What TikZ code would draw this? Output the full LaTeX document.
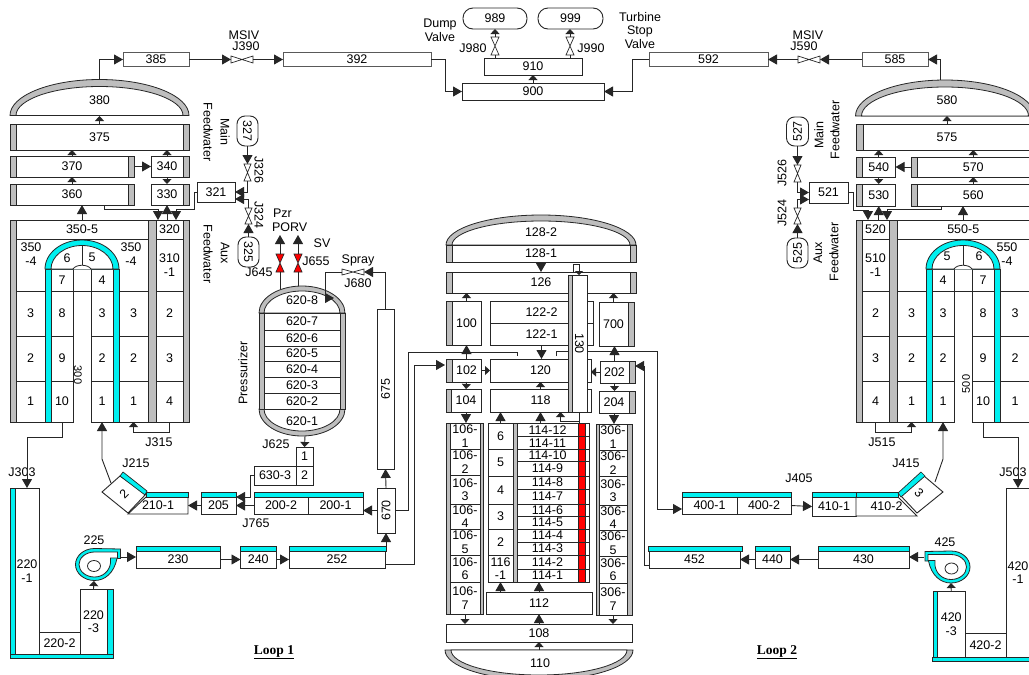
\documentclass[tikz,border=0pt]{standalone}
\usepackage{fontspec}
\usepackage{graphicx}
\setmainfont{Liberation Sans}
\newfontfamily\lpfont{Liberation Serif}
\usetikzlibrary{arrows.meta,calc}
\definecolor{lk}{gray}{0.15}
\definecolor{gbar}{RGB}{190,190,190}
\definecolor{cbar}{RGB}{0,240,240}
\definecolor{rbar}{RGB}{255,0,0}
\newcommand{\txtfont}{\fontsize{12.5}{13.6}\selectfont}
\tikzset{
 boxst/.style={draw=lk,fill=white,line width=.9pt,inner sep=0pt,outer sep=0pt,font=\txtfont,align=center,text=black},
 lbl/.style={inner sep=0pt,outer sep=0pt,font=\txtfont,align=center,text=black},
 con/.style={draw=lk,line width=.9pt},
 arb/.style={con,-{Triangle[length=9pt,width=10pt]}},
 ars/.style={con,-{Triangle[length=5pt,width=9pt]}},
 art/.style={con,-{Triangle[length=4pt,width=8pt]}},
 vnode/.style={inner sep=0pt,outer sep=0pt},
 pill/.style={boxst,rounded corners=8pt},
 bar/.style={draw=lk,line width=.7pt,fill=gbar},
 cyb/.style={draw=lk,line width=.7pt,fill=cbar},
 redbar/.style={draw=lk,line width=.7pt,fill=rbar},
 shp/.style={draw=lk,line width=.9pt,fill=white},
}
\newcommand{\bx}[7][]{%
 \pgfmathsetmacro\bxcx{(#3+#5)/2}\pgfmathsetmacro\bxcy{(#4+#6)/2}%
 \pgfmathsetmacro\bxw{#5-#3}\pgfmathsetmacro\bxh{#6-#4}%
 \node[boxst,minimum width=\bxw pt,minimum height=\bxh pt,#1] (#2) at (\bxcx,\bxcy) {#7};}
\newcommand{\lb}[5][]{\node[lbl,#1] (#2) at (#3,#4) {#5};}
\newcommand{\rb}[5][bar]{\path[#1] (#2,#3) rectangle (#4,#5);}
\newcommand{\vlvH}[6]{\node[vnode,minimum width=#4pt,minimum height=#5pt] (#1) at (#2,#3) {};
 \path[draw=lk,line width=.7pt,fill=#6] (#1.north west)--(#1.south east)--(#1.north east)--(#1.south west)--cycle;}
\newcommand{\vlvV}[6]{\node[vnode,minimum width=#4pt,minimum height=#5pt] (#1) at (#2,#3) {};
 \path[draw=lk,line width=.7pt,fill=#6] (#1.north west)--(#1.north east)--(#1.south west)--(#1.south east)--cycle;}
\newcommand{\domepath}[4]{(#1-#2,#3) .. controls (#1-#2,#3-0.5523*#4) and (#1-0.5523*#2,#3-#4) .. (#1,#3-#4) .. controls (#1+0.5523*#2,#3-#4) and (#1+#2,#3-0.5523*#4) .. (#1+#2,#3)}
\newcommand{\dome}[6]{\path[draw=lk,line width=.8pt,fill=gbar] \domepath{#1}{#2}{#3}{#4} -- cycle;
 \path[draw=lk,line width=.8pt,fill=white] \domepath{#1}{#5}{#3}{#6} -- cycle;}
\newcommand{\arch}[2]{\path[draw=lk,line width=.8pt,fill=cbar] \domepath{#1}{37}{#2}{29} -- cycle;
 \path[draw=lk,line width=.8pt,fill=white] \domepath{#1}{31}{#2}{23.5} -- cycle;}
\newcommand{\pumpshape}{%
 \path[draw=lk,line width=.8pt,fill=cbar] (120.5,549) -- (94.5,548.5) .. controls (84,548.5) and (75.5,555.7) .. (75.5,564.5) .. controls (75.5,573.3) and (84,580.5) .. (94.5,580.5) .. controls (105,580.5) and (114,573) .. (117,558.5) -- (120.5,558.5) -- cycle;
 \path[draw=lk,line width=.8pt,fill=white] (117.5,552) -- (94.5,552) .. controls (86,552) and (79,557.6) .. (79,564.5) .. controls (79,571.4) and (86,577) .. (94.5,577) .. controls (103,577) and (109.5,571) .. (110.5,563) -- (110.5,558) -- (117.5,558) -- cycle;
 \path[draw=lk,line width=.8pt,fill=white] (94,566) ellipse [x radius=6.5pt,y radius=5.5pt];}
\begin{document}
\begin{tikzpicture}[x=1pt,y=-1pt]
\useasboundingbox (0,0) rectangle (1029,675);
\clip (0,0) rectangle (1029,675);
\path[fill=white] (0,0) rectangle (1029,675);

% ---------- named free ends
\coordinate (d380) at (99.5,80);   \coordinate (b380) at (99.5,116);
\coordinate (d580) at (940,80);    \coordinate (b580) at (947,116);
\coordinate (c392) at (445,91.5);  \coordinate (c592) at (632,91.5);
\coordinate (a1) at (158,209);     \coordinate (a2) at (194,209);   \coordinate (a3) at (176,220);
\coordinate (a1b) at (158,220);
\coordinate (r1) at (853,210);     \coordinate (r2) at (868,220);
\coordinate (r3) at (887,209);     \coordinate (r4) at (887,220);
\coordinate (vt1) at (280,235);    \coordinate (vt2) at (298,235);
\coordinate (vb1) at (280,289);    \coordinate (vb2) at (298,286);
\coordinate (a5) at (325,298);     \coordinate (a4) at (334,298);
\coordinate (pzb) at (305,436);
\coordinate (a6) at (250,497);
\coordinate (kink1) at (102,459);  \coordinate (dia1) at (111,483);
\coordinate (kink2) at (943,459);  \coordinate (dia2) at (935,482);
\coordinate (a7) at (27,437);      \coordinate (a7r) at (1018,437);
\coordinate (pmp1o) at (120.5,557);\coordinate (pmp1b) at (94,581);
\coordinate (pmp2o) at (924,557);  \coordinate (pmp2b) at (951,583);
\coordinate (top252) at (386,546);
\coordinate (a8) at (414,365);     \coordinate (a9) at (445,365);
\coordinate (a10) at (408,352);    \coordinate (a11) at (517,356);
\coordinate (a12) at (657,351);    \coordinate (a13) at (556,356);
\coordinate (a14) at (644,366);    \coordinate (a15) at (635,366);
\coordinate (a16) at (560.5,421);
\coordinate (b110) at (539,650);
\coordinate (j315) at (133.5,432); \coordinate (j515) at (911.5,432);
\coordinate (s55) at (963,220);    \coordinate (s35) at (82,220);

% ---------- top header
\bx[draw=gray!70!black]{n385}{123}{52.5}{189}{66.5}{385}
\bx[draw=gray!70!black]{n392}{283}{52.5}{431}{66.5}{392}
\vlvH{J390}{242}{59.5}{22}{7}{white}
\bx[pill,rounded corners=10pt]{p989}{463}{8}{527}{29}{989}
\bx[pill,rounded corners=10pt]{p999}{538}{8}{603}{29}{999}
\bx{n910}{484}{58}{582}{75}{910}
\bx{n900}{462}{83}{604}{100}{900}
\vlvV{J980}{495}{46}{8}{18}{white}
\vlvV{J990}{570}{46}{8}{18}{white}
\bx[draw=gray!70!black]{n592}{649}{52.5}{768}{66.5}{592}
\bx[draw=gray!70!black]{n585}{862}{52.5}{928}{66.5}{585}
\vlvH{J590}{809}{59.5}{22}{7}{white}

\lb{tmsiv1}{244}{35}{MSIV}\lb{tj390}{246}{46}{J390}
\lb{tmsiv2}{808}{35}{MSIV}\lb{tj590}{804}{46}{J590}
\lb{tdump}{440}{30}{Dump\\Valve}
\lb{tj980}{473}{48}{J980}\lb{tj990}{591}{48}{J990}
\lb{tturb}{640}{30.5}{Turbine\\Stop\\Valve}

\draw[arb] (d380) |- (n385.west);
\draw[arb] (n385.east) -- (J390.west);
\draw[arb] (J390.east) -- (n392.west);
\draw[arb] (n392.east) -| (c392) -- (c392 -| n900.west);
\draw[arb] (n592.west) -| (c592) -- (c592 -| n900.east);
\draw[arb] (J590.west) -- (n592.east);
\draw[arb] (n585.west) -- (J590.east);
\draw[arb] (d580) |- (n585.east);
\draw[ars] (n900.north) -- (n910.south);
\draw[con] (J980.south |- n910.north) -- (J980.south);
\draw[con] (J990.south |- n910.north) -- (J990.south);
\draw[ars] (J980.north) -- (J980.north |- p989.south);
\draw[ars] (J990.north) -- (J990.north |- p999.south);

% ---------- steam generator 1, upper
\dome{99.5}{89.5}{115.5}{36}{83.5}{29}
\lb{t380}{99.5}{100}{380}
\bx{n375}{16}{124}{183}{150}{375}
\rb{10}{124}{16}{150}\rb{183}{124}{189}{150}
\bx{n370}{16}{156}{128}{177}{370}
\rb{10}{156}{16}{177}\rb{128}{156}{134}{177}
\bx{n340}{151}{156}{183}{177}{340}\rb{183}{156}{189}{177}
\bx{n360}{16}{184}{128}{205}{360}
\rb{10}{184}{16}{205}\rb{128}{184}{134}{205}
\bx{n330}{151}{184}{183}{205}{330}\rb{183}{184}{189}{205}
\bx{n321}{197}{182}{235}{202}{321}
\bx[pill]{p327}{237}{116}{258}{146}{\rotatebox{-90}{327}}
\bx[pill]{p325}{238}{237}{259}{267}{\rotatebox{-90}{325}}
\vlvV{J326}{247.5}{172.5}{7}{17}{white}
\vlvV{J324}{248.5}{216}{7}{16}{white}
\lb[rotate=-90]{tj326}{259}{170}{J326}
\lb[rotate=-90]{tj324}{259}{215}{J324}
\lb[rotate=-90]{tmain1}{225}{132}{Main}
\lb[rotate=-90]{tfw1}{208}{132}{Feedwater}
\lb[rotate=-90]{taux1}{225}{253}{Aux}
\lb[rotate=-90]{tfw2}{208}{254}{Feedwater}

% ---------- steam generator 1, lower
\bx{n350e}{16}{220}{148}{239}{350-5}
\bx{n350d}{16}{239}{148}{291}{}
\bx{n320}{156}{220}{183}{239}{320}
\bx{n310}{156}{239}{183}{291}{310\\-1}
\foreach \ya/\yb/\ta/\tb/\tc/\td/\te/\kk in {291/336/3/8/3/3/2/a,336/381/2/9/2/2/3/b,381/422/1/10/1/1/4/c}{
 \bx{sA\kk}{16}{\ya}{45}{\yb}{\ta}
 \bx{sB\kk}{51}{\ya}{73}{\yb}{\tb}
 \bx{sC\kk}{91}{\ya}{113}{\yb}{\tc}
 \bx{sD\kk}{119}{\ya}{148}{\yb}{\td}
 \bx{sE\kk}{156}{\ya}{183}{\yb}{\te}
}
\rb{10}{220}{16}{422}\rb{148}{220}{156}{422}\rb{183}{220}{189}{422}
\bx{sB7}{51}{269}{73}{291}{7}
\bx{sC4}{91}{269}{113}{291}{4}
\rb[cyb]{45}{269}{51}{422}\rb[cyb]{113}{269}{119}{422}
\arch{82}{269}
\path[draw=lk,line width=.8pt,fill=white] (73,269) .. controls (76,264) and (88,264) .. (91,269);
\path[draw=lk,line width=.8pt] (82,245.5) -- (82,265);
\lb{t350a}{31}{254}{350\\-4}\lb{t350b}{131}{254}{350\\-4}
\lb{t6a}{67}{258}{6}\lb{t5a}{92}{257}{5}
\lb[rotate=-90,font=\fontsize{11}{12}\selectfont]{t300}{78}{375}{300}
\lb{tj315}{159}{442}{J315}

% ---------- steam generator 2, upper
\dome{945}{89.5}{116}{36}{83.5}{29}
\lb{t580}{947}{100}{580}
\bx{n575}{863}{124}{1031}{150}{575}\rb{856}{124}{863}{150}
\bx{n540}{862}{157}{895.5}{177}{540}\rb{856}{157}{862}{177}
\bx{n570}{917}{157}{1029.5}{177}{570}\rb{911}{157}{917}{177}
\bx{n530}{862}{184}{895.5}{206}{530}\rb{856}{184}{862}{206}
\bx{n560}{917}{184}{1029.5}{206}{560}\rb{911}{184}{917}{206}
\bx{n521}{809}{182}{848}{203}{521}
\bx[pill]{p527}{786.5}{117}{808.5}{146}{\rotatebox{90}{527}}
\bx[pill]{p525}{787}{238}{808}{268}{\rotatebox{90}{525}}
\vlvV{J526}{797.5}{173.5}{7}{17}{white}
\vlvV{J524}{797.5}{216}{7}{16}{white}
\lb[rotate=90]{tj526}{782}{173}{J526}
\lb[rotate=90]{tj524}{782}{213}{J524}
\lb[rotate=90]{tmain2}{819}{135}{Main}
\lb[rotate=90]{tfw3}{835}{130}{Feedwater}
\lb[rotate=90]{taux2}{818}{253}{Aux}
\lb[rotate=90]{tfw4}{834}{252}{Feedwater}

% ---------- steam generator 2, lower
\bx{n520}{862}{220}{889}{239}{520}
\bx{n510}{862}{239}{889}{291}{510\\-1}
\bx{n550e}{897}{220}{1029.5}{239}{550-5}
\bx{n550d}{897}{239}{1030}{291}{}
\foreach \ya/\yb/\tf/\tg/\tq/\ti/\tj/\kk in {291/336/2/3/3/8/3/a,336/381/3/2/2/9/2/b,381/422/4/1/1/10/1/c}{
 \bx{sF\kk}{862}{\ya}{889}{\yb}{\tf}
 \bx{sG\kk}{897}{\ya}{926}{\yb}{\tg}
 \bx{sH\kk}{932}{\ya}{954}{\yb}{\tq}
 \bx{sI\kk}{972}{\ya}{994}{\yb}{\ti}
 \bx{sJ\kk}{1000}{\ya}{1030}{\yb}{\tj}
}
\rb{856}{220}{862}{422}\rb{889}{220}{897}{422}
\bx{sH4}{932}{269}{954}{291}{4}
\bx{sI7}{972}{269}{994}{291}{7}
\rb[cyb]{926}{269}{932}{422}\rb[cyb]{994}{269}{1000}{422}
\arch{963}{269}
\path[draw=lk,line width=.8pt,fill=white] (954,269) .. controls (957,264) and (969,264) .. (972,269);
\path[draw=lk,line width=.8pt] (963,245.5) -- (963,265);
\lb{t550}{1007}{254}{550\\-4}
\lb{t5b}{947}{256}{5}\lb{t6b}{979}{256}{6}
\lb[rotate=90,font=\fontsize{11}{12}\selectfont]{t500}{966}{384}{500}
\lb{tj515}{882}{442}{J515}

% ---------- SG connectors
\draw[ars] (n375.north) -- (b380);
\draw[ars] (n370.north) -- (n370.north |- n375.south);
\draw[ars] (n340.north) -- (n340.north |- n375.south);
\draw[ars] (n360.north) -- (n360.north |- n370.south);
\draw[ars] (n340.south) -- (n330.north);
\draw[arb] ([xshift=6pt]n370.east) -- (n340.west);
\draw[arb] (s35) -- (s35 |- n360.south);
\draw[arb] ([xshift=32pt]n360.south) |- (a1) -- (a1b);
\draw[arb] (n330.south |- n320.north) -- (n330.south);
\draw[arb] (n321.west) -| (a2) -| (a3);
\draw[arb] (p327.south) -- (J326.north);
\draw[arb] (J326.south) |- (n321.east);
\draw[arb] (J324.north) |- ([yshift=-7pt]n321.east);
\draw[arb] (p325.north) -- (J324.south);
\draw[ars] (sEc.south) |- (j315) -- (sDc.south);

\draw[ars] (n575.north) -- (b580);
\draw[ars] (n540.north) -- (n540.north |- n575.south);
\draw[ars] (n570.north) -- (n570.north |- n575.south);
\draw[ars] (n560.north) -- (n560.north |- n570.south);
\draw[ars] (n540.south) -- (n530.north);
\draw[arb] ([xshift=-6pt]n570.west) -- (n540.east);
\draw[arb] (s55) -- (s55 |- n560.south);
\draw[arb] (n521.east) -| (r1) -| (r2);
\draw[arb] (n530.south |- n520.north) -- (n530.south);
\draw[arb] ([xshift=-32pt]n560.south) |- (r3) -- (r4);
\draw[arb] (p527.south) -- (J526.north);
\draw[arb] (J526.south) |- (n521.west);
\draw[arb] (J524.north) |- ([yshift=-7pt]n521.west);
\draw[arb] (p525.north) -- (J524.south);
\draw[ars] (sFc.south) |- (j515) -- (sGc.south);

% ---------- pressurizer
\dome{302}{43}{313}{27}{38}{22}
\dome{302}{43}{409}{-27}{38}{-22}
\rb{259}{313}{264}{409}\rb{340}{313}{345}{409}
\foreach \ya/\yb/\kk in {313/330/7,330/346/6,346/361/5,361/377/4,377/393/3,393/409/2}{
 \bx{n620\kk}{264}{\ya}{340}{\yb}{620-\kk}
}
\lb{t6208}{302}{300}{620-8}\lb{t6201}{302}{421}{620-1}
\lb[rotate=90]{tpzr}{243}{373}{Pressurizer}
\vlvV{J645}{280}{263}{8}{18}{rbar}
\vlvV{J655}{298}{263}{8}{18}{rbar}
\vlvH{J680}{353}{272}{22}{6}{white}
\lb[anchor=west]{tpzr2}{273}{213}{Pzr}
\lb[anchor=west]{tporv}{272}{227}{PORV}
\lb{tsv}{322}{243}{SV}
\lb{tj655}{316}{261}{J655}\lb{tj645}{259}{272}{J645}
\lb{tspray}{358}{260}{Spray}\lb{tj680}{358}{283}{J680}
\lb{tj625}{276}{444}{J625}\lb{tj765}{256}{523}{J765}
\draw[con] (vb1) -- (J645.south);
\draw[con] (vb2) -- (J655.south);
\draw[arb] (J645.north) -- (vt1);
\draw[arb] (J655.north) -- (vt2);

% ---------- loop 1 piping
\bx{n6301}{296}{447}{313}{466}{1}
\bx{n6302}{296}{466}{313}{485}{2}
\bx{n6303}{254}{466}{296}{485}{630-3}
\bx{n205}{201}{497}{236}{514}{205}\rb[cyb]{201}{492}{236}{497}
\bx{n2002}{254}{497}{308}{514}{200-2}
\bx{n2001}{308}{497}{363}{514}{200-1}
\rb[cyb]{254}{492}{363}{497}
\path[shp] (128,514) -- (188,514) -- (188,497) -- (146,497) -- cycle;
\rb[cyb]{146}{492}{188}{497}
\path[shp] (102,492) -- (120,476) -- (146,494) -- (128,513) -- cycle;
\path[cyb] (123,472) -- (147,491) -- (145,495) -- (120,476) -- cycle;
\bx[draw=none,fill=none]{n2101}{128}{497}{188}{514}{210-1}
\lb[rotate=45]{td2}{124}{494}{2}
\lb{tj215}{136}{463}{J215}\lb{tj303}{22}{472}{J303}
\bx{n670}{377}{488}{395}{533}{\rotatebox{90}{670}}
\bx{n675}{377}{309}{394}{469}{\rotatebox{90}{675}}
\bx{n2201}{15}{488}{39}{654}{220\\-1}
\bx{n2202}{39}{632}{80}{654}{220-2}
\bx{n2203}{80}{589}{107}{654}{220\\-3}
\rb[cyb]{10}{488}{15}{654}\rb[cyb]{107}{589}{113}{654}\rb[cyb]{10}{654}{113}{658}
\pumpshape
\lb{t225}{94}{540}{225}
\bx{n230}{136}{551}{220}{568}{230}\rb[cyb]{136}{546}{220}{551}
\bx{n240}{240.5}{551}{276}{568}{240}\rb[cyb]{240.5}{546}{276}{551}
\bx{n252}{289}{551}{385}{568}{252}\rb[cyb]{289}{546}{386}{551}
\node[lbl,font=\lpfont\bfseries\fontsize{13.5}{15}\selectfont] (tloop1) at (274,652) {\underline{Loop 1}};

\draw[arb] (sBc.south) |- (a7) -- (a7 |- n2201.north);
\draw[ars] (pzb) -- (n6301.north);
\draw[arb] (n6303.west) -| (a6) -- (a6 -| n205.east);
\draw[arb] (n2002.west) -- (n205.east);
\draw[arb] (n205.west) -- (n2101.east);
\draw[arb] (dia1) -- (kink1) -- (kink1 |- sCc.south);
\draw[arb] (n670.west) -- (n670.west -| n2001.east);
\draw[arb] (n670.north) -- (n675.south);
\draw[arb] (top252) -- (n670.south);
\draw[ars] (n2203.north) -- (pmp1b);
\draw[arb] (pmp1o) -- (pmp1o -| n230.west);
\draw[arb] (n230.east) -- (n240.west);
\draw[arb] (n240.east) -- (n252.west);
\draw[arb] ([yshift=-4.5pt]n252.east) -| (a8) -- (a9);
\draw[con] (n670.east) -| (a10) -| (a11);
\draw[arb] (n675.north) |- (J680.east);
\draw[con] (J680.west) -| (a5);
\draw[arb] (a5) -- (a4);

% ---------- loop 2 piping
\bx{n4001}{682}{497}{737}{514}{400-1}
\bx{n4002}{737}{497}{791}{514}{400-2}
\rb[cyb]{682}{492}{791}{497}
\bx{n4101}{812}{497}{856}{516}{410-1}\rb[cyb]{812}{492}{856}{497}
\path[shp] (856,497) -- (898,497) -- (917,516) -- (856,516) -- cycle;
\rb[cyb]{856}{492}{898}{497}
\path[shp] (901,496) -- (924,476) -- (943,492) -- (917,513) -- cycle;
\path[cyb] (898,493) -- (921,472) -- (925,476) -- (901,497) -- cycle;
\bx[draw=none,fill=none]{n4102}{856}{497}{917}{516}{410-2}
\lb[rotate=-45]{td3}{919}{493}{3}
\lb{tj415}{906}{463}{J415}\lb{tj405}{799}{478}{J405}
\lb{tj503}{1013}{472}{J503}
\bx{n4201}{1006}{488}{1030}{657}{420\\-1}
\bx{n4202}{965}{633}{1006}{657}{420-2}
\bx{n4203}{937.5}{591}{965}{657}{420\\-3}
\rb[cyb]{933}{591}{937.5}{657}\rb[cyb]{932}{657}{1032}{661}
\begin{scope}[shift={(1045.5,2.5)},xscale=-1]\pumpshape\end{scope}
\lb{t425}{945}{542}{425}
\bx{n430}{818}{551}{909}{568}{430}\rb[cyb]{818}{546}{909}{551}
\bx{n440}{755}{551}{790}{568}{440}\rb[cyb]{755}{546}{790}{551}
\bx{n452}{649}{551}{740}{568}{452}\rb[cyb]{648}{546}{742}{551}
\node[lbl,font=\lpfont\bfseries\fontsize{13.5}{15}\selectfont] (tloop2) at (777,652) {\underline{Loop 2}};

\draw[arb] (dia2) -- (kink2) -- (kink2 |- sHc.south);
\draw[arb] (sIc.south) |- (a7r) -- (a7r |- n4201.north);
\draw[arb] (n4002.east) -- (n4101.west);
\draw[ars] (n4203.north) -- (pmp2b);
\draw[arb] (pmp2o) -- (pmp2o -| n430.east);
\draw[arb] (n430.west) -- (n440.east);
\draw[arb] (n440.west) -- (n452.east);
\draw[arb] ([yshift=-5.5pt]n452.west) -| (a14) -- (a15);
\draw[arb] (a13) |- (a12) |- ([yshift=-3.5pt]n4001.west);

% ---------- vessel
\dome{541}{95}{245}{30}{89}{24}
\lb{t1282}{541}{232}{128-2}
\bx{n1281}{452}{245}{630}{262}{128-1}\rb{446}{245}{452}{262}\rb{630}{245}{636}{262}
\bx{n126}{452}{272}{630}{293}{126}\rb{446}{272}{452}{293}\rb{630}{272}{636}{293}
\bx{n100}{452}{301}{481}{345}{100}\rb{446}{301}{452}{345}
\bx{n1222}{490}{301}{593}{323}{122-2}
\bx{n1221}{490}{323}{593}{345}{122-1}
\bx{n700}{599}{302}{628}{346}{700}\rb{628}{302}{634}{346}
\bx{n102}{452}{359}{481}{382}{102}\rb{446}{359}{452}{382}
\bx{n120}{490}{359}{591}{382}{120}
\bx{n202}{600}{361}{629}{383}{202}\rb{629}{361}{635}{383}
\bx{n104}{451}{389}{481}{412}{104}\rb{446}{389}{451}{412}
\bx{n118}{490}{389}{591}{412}{118}
\bx{n204}{599}{391}{629}{413}{204}\rb{629}{391}{635}{413}
\foreach \ya/\yb/\kk in {423/449/1,449/475/2,475/504/3,504/529/4,529/555/5,555/582/6,582/614/7}{
 \bx{n106\kk}{450}{\ya}{480}{\yb}{106-\\\kk}
}
\rb{446}{423}{450}{614}\rb{480}{423}{483}{614}
\foreach \ya/\yb/\kk in {424/450/1,450/476/2,476/505/3,505/530/4,530/556/5,556/583/6,583/615/7}{
 \bx{n306\kk}{599}{\ya}{627}{\yb}{306-\\\kk}
}
\rb{596}{424}{599}{615}\rb{627}{424}{632}{615}
\bx{n116f}{488}{423}{513}{449}{6}
\bx{n116e}{488}{449}{513}{476}{5}
\bx{n116d}{488}{476}{513}{504}{4}
\bx{n116c}{488}{504}{513}{529}{3}
\bx{n116b}{488}{529}{513}{555}{2}
\bx{n116a}{488}{555}{513}{582}{116\\-1}
\rb{513}{423}{517}{582}
\foreach \ya/\yb/\kk in {423/436.5/12,436.5/449/11,449/461/10,461/476/9,476/489/8,489/504/7,504/516/6,516/529/5,529/542/4,542/555/3,555/569/2,569/582/1}{
 \bx{n114-\kk}{517}{\ya}{578}{\yb}{114-\kk}
 \rb[redbar]{578}{\ya}{585}{\yb}
 \path[shp] (585,\ya) rectangle (589,\yb);
}
\bx{n112}{486}{592}{592}{614}{112}
\bx{n108}{446}{624}{632}{642}{108}
\dome{539}{94}{650}{-30}{88}{-25}
\lb{t110}{540}{663}{110}

\draw[arb] (n1281.south) -- (n126.north);
\draw[ars] (n100.north) -- (n100.north |- n126.south);
\draw[ars] (n700.north) -- (n700.north |- n126.south);
\draw[arb] (n102.north) -- (n100.south);
\draw[arb] (n202.north) -- (n202.north |- n700.south);
\draw[ars] (n102.south) -- (n104.north);
\draw[ars] (n202.south) -- (n202.south |- n204.north);
\draw[ars] (n102.east) -- (n120.west);
\draw[ars] (n202.west) -- (n202.west -| n120.east);
\draw[arb] (n1221.south) -- (n1221.south |- n120.north);
\draw[ars] (n118.north) -- (n120.south);
\draw[arb] (n104.south) -- (n104.south |- n1061.north);
\draw[arb] (n204.south) -- (n204.south |- n3061.north);
\draw[arb] (n116f.north) -- (n116f.north |- n118.south);
\draw[arb] (n118.south |- n114-12.north) -- (n118.south);
\draw[arb] (n116a.south |- n112.north) -- (n116a.south);
\draw[arb] (n112.north) -- (n112.north |- n114-1.south);
\draw[arb] (n108.north) -- (n112.south);
\draw[ars] (n1067.south) -- (n1067.south |- n108.north);
\draw[ars] (n3067.south) -- (n3067.south |- n108.north);
\draw[ars] (b110) -- (n108.south);

% channel 130 drawn last: it lies over 126, 122, 120, 118
\bx{n130t}{573}{264}{579}{272}{}
\bx{n130}{572}{275}{587}{412}{\rotatebox{-90}{130}}
\rb{568}{275}{572}{412}
\draw[art] (n130t.south east) -- (n130t.south east |- n130.north);
\draw[ars] (n130.south) |- (a16) -- (a16 |- n118.south);
\draw[con] (n130.south) -- (n130.south |- n114-12.north);
\end{tikzpicture}
\end{document}
